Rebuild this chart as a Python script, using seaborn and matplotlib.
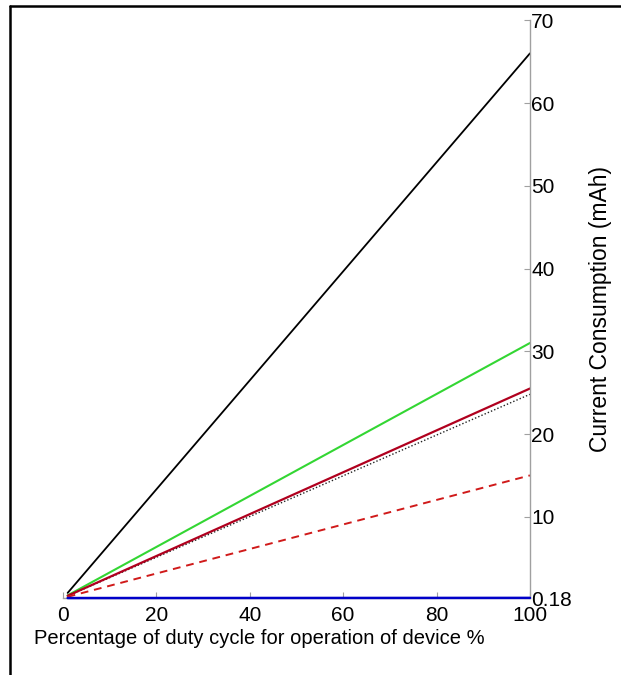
import matplotlib
matplotlib.use("Agg")
import matplotlib.pyplot as plt
from matplotlib.lines import Line2D
import seaborn as sns
import pandas as pd

sns.set_theme(style="white")
plt.rcParams['font.family'] = ['Liberation Sans', 'DejaVu Sans']
plt.rcParams['text.color'] = 'black'
plt.rcParams['axes.labelcolor'] = 'black'

duty = [1, 100]
black_vals = [0.8, 66.0]
green_vals = [0.5, 31.0]
red_vals = [0.45, 25.5]
dotted_vals = [0.43, 24.8]
dashed_vals = [0.33, 15.0]
blue_vals = [0.18, 0.2]

x_ticks = [0, 20, 40, 60, 80, 100]
y_ticks = [0.18, 10, 20, 30, 40, 50, 60, 70]
y_tick_labels = ["0.18", "10", "20", "30", "40", "50", "60", "70"]

series = {
    "black": black_vals,
    "green": green_vals,
    "red": red_vals,
    "dotted": dotted_vals,
    "dashed": dashed_vals,
    "blue": blue_vals,
}
rows = []
for name, vals in series.items():
    for xv, yv in zip(duty, vals):
        rows.append({"duty": xv, "value": yv, "series": name})
df = pd.DataFrame(rows)

styles = {
    "black": dict(color="#000000", linestyle="-", linewidth=1.3),
    "green": dict(color="#33d633", linestyle="-", linewidth=1.5),
    "red": dict(color="#b0001e", linestyle="-", linewidth=1.6),
    "dotted": dict(color="#222222", linestyle=(0, (1, 1.5)), linewidth=1.0),
    "dashed": dict(color="#d01a1a", linestyle=(0, (4, 3)), linewidth=1.4),
    "blue": dict(color="#0000c8", linestyle="-", linewidth=1.8, zorder=3),
}

fig = plt.figure(figsize=(6.21, 6.75), dpi=100)
ax = fig.add_axes([0.1014, 0.114, 0.752, 0.856])

for name in ["black", "green", "dotted", "red", "dashed", "blue"]:
    sub = df[df["series"] == name]
    sns.lineplot(data=sub, x="duty", y="value", ax=ax, clip_on=False, **styles[name])

ax.set_xlim(0, 100)
ax.set_ylim(0.18, 70)
ax.set_xticks(x_ticks)
ax.set_xticklabels([str(t) for t in x_ticks])
ax.yaxis.tick_right()
ax.yaxis.set_label_position("right")
ax.set_yticks(y_ticks)
ax.set_yticklabels(y_tick_labels)

for s in ["left", "top"]:
    ax.spines[s].set_visible(False)
ax.spines["right"].set_color("#a0a0a0")
ax.spines["bottom"].set_color("#a0a0a0")
ax.spines["right"].set_linewidth(1.0)
ax.spines["bottom"].set_linewidth(1.0)

ax.tick_params(axis="both", direction="in", length=4, width=0.8, color="#a0a0a0",
               labelsize=15, labelcolor="black")
ax.tick_params(axis="x", bottom=True, pad=6)
ax.tick_params(axis="y", right=True, left=False, pad=1)

ax.set_xlabel("Percentage of duty cycle for operation of device %", fontsize=14.5,
              labelpad=0, color="black")
ax.xaxis.set_label_coords(0.42, -0.053, transform=ax.transAxes)
ax.xaxis.label.set_va("top")
ax.set_ylabel("Current Consumption (mAh)", fontsize=16.5, labelpad=12, color="black")

fig.add_artist(Line2D([0.016, 1.0], [0.991, 0.991], transform=fig.transFigure, color="black", linewidth=1.8))
fig.add_artist(Line2D([0.0168, 0.0168], [0.0, 0.991], transform=fig.transFigure, color="black", linewidth=1.8))

fig.savefig("out.png", dpi=100, facecolor="white")
